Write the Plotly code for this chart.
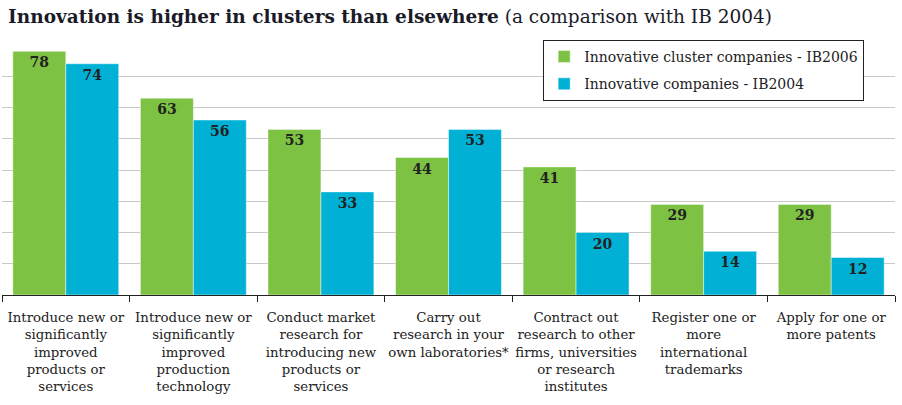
import plotly.graph_objects as go

categories = [
    "Introduce new or<br>significantly<br>improved<br>products or<br>services",
    "Introduce new or<br>significantly<br>improved<br>production<br>technology",
    "Conduct market<br>research for<br>introducing new<br>products or<br>services",
    "Carry out<br>research in your<br>own laboratories*",
    "Contract out<br>research to other<br>firms, universities<br>or research<br>institutes",
    "Register one or<br>more<br>international<br>trademarks",
    "Apply for one or<br>more patents",
]
cluster_2006 = [78, 63, 53, 44, 41, 29, 29]
companies_2004 = [74, 56, 33, 53, 20, 14, 12]
series_names = ["Innovative cluster companies - IB2006", "Innovative companies - IB2004"]

FONT = "DejaVu Serif"
GREEN = "#7DC242"
BLUE = "#00B1D5"

fig = go.Figure()
for name, vals, col, grp in [(series_names[0], cluster_2006, GREEN, "a"),
                             (series_names[1], companies_2004, BLUE, "b")]:
    fig.add_trace(go.Bar(
        x=categories, y=vals, name=name, legendgroup=grp,
        marker=dict(color=col, line=dict(color="rgba(255,255,255,0.45)", width=1)),
        text=[str(v) for v in vals], textposition="inside", insidetextanchor="end",
        textangle=0,
        textfont=dict(family=FONT, size=14, color="#222222", weight="bold"),
    ))

fig.update_layout(
    width=902, height=405,
    margin=dict(l=2, r=7, t=45, b=110, autoexpand=False),
    paper_bgcolor="white", plot_bgcolor="white",
    barmode="group", bargap=0.17, bargroupgap=0,
    font=dict(family=FONT, size=13, color="#222222"),
    title=dict(
        text="<b>Innovation is higher in clusters than elsewhere</b> (a comparison with IB 2004)",
        x=0.009, xanchor="left", y=0.958, yanchor="middle",
        font=dict(family=FONT, size=18.5, color="#1a1a28"),
    ),
    legend=dict(
        x=0.606, y=1.02, xanchor="left", yanchor="top",
        bgcolor="white", bordercolor="#222222", borderwidth=1,
        font=dict(family=FONT, size=14, color="#222222"),
        traceorder="grouped", tracegroupgap=6,
    ),
    showlegend=True,
    uniformtext=dict(mode="show", minsize=10),
)
fig.update_xaxes(
    showline=True, linecolor="#222222", linewidth=1,
    ticks="outside", tickson="boundaries", ticklen=6, tickcolor="#222222",
    tickangle=0, automargin=False, ticklabelstandoff=10,
    tickfont=dict(family=FONT, size=13.3, color="#222222"),
    showgrid=False,
)
fig.update_yaxes(
    range=[0, 80], dtick=10, showticklabels=False, automargin=False,
    showgrid=True, gridcolor="#c8c8c8", gridwidth=1,
    zeroline=False,
)
fig.write_html("out.html")
